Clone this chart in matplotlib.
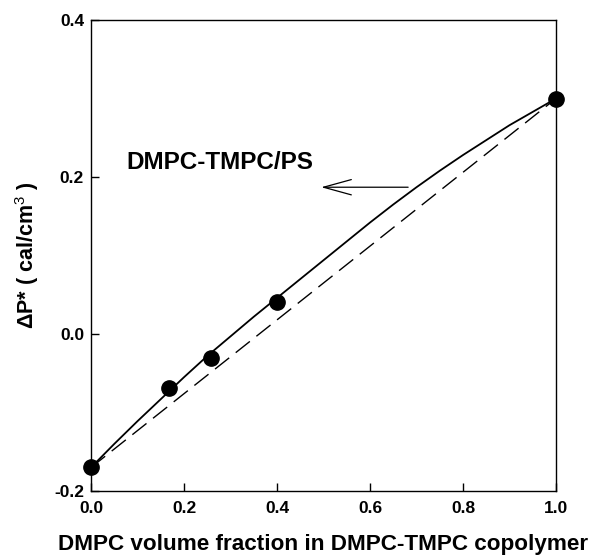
import matplotlib
matplotlib.use("Agg")
import matplotlib.pyplot as plt

plt.rcParams['font.family'] = ['Liberation Sans', 'DejaVu Sans']
plt.rcParams['mathtext.fontset'] = 'custom'
plt.rcParams['mathtext.rm'] = 'Liberation Sans'

# measured points
phi_meas = [0.0, 0.168, 0.257, 0.399, 1.0]
dp_meas = [-0.169, -0.069, -0.030, 0.041, 0.300]

# fitted curve, solid line
phi_fit = [0.0, 0.05, 0.10, 0.15, 0.20, 0.25, 0.30, 0.35, 0.40, 0.45, 0.50,
           0.55, 0.60, 0.65, 0.70, 0.75, 0.80, 0.85, 0.90, 0.95, 1.0]
dp_fit = [-0.170, -0.140, -0.111, -0.083, -0.055, -0.028, -0.003, 0.022, 0.046,
          0.070, 0.094, 0.118, 0.142, 0.165, 0.187, 0.208, 0.228, 0.247, 0.266,
          0.283, 0.300]

# linear additivity, dashed line
phi_lin = [0.0, 1.0]
dp_lin = [-0.170, 0.300]

xticks = [0.0, 0.2, 0.4, 0.6, 0.8, 1.0]
yticks = [-0.2, 0.0, 0.2, 0.4]

fig = plt.figure(figsize=(5.96, 5.59), dpi=100)
ax = fig.add_axes([0.1527, 0.1216, 0.7802, 0.8426])

ax.plot(phi_lin, dp_lin, color='black', lw=1.0, dashes=(13, 6))
ax.plot(phi_fit, dp_fit, color='black', lw=1.3)
ax.plot(phi_meas, dp_meas, 'o', color='black', ms=11, clip_on=False, zorder=5)

ax.set_xlim(0, 1.0)
ax.set_ylim(-0.2, 0.4)
ax.set_xticks(xticks)
ax.set_yticks(yticks)
ax.set_xticklabels(['%.1f' % v for v in xticks], fontweight='bold', fontsize=12.5)
ax.set_yticklabels(['%.1f' % v for v in yticks], fontweight='bold', fontsize=12.5)
ax.tick_params(direction='in', length=6, width=1, pad=7)
ax.tick_params(axis='y', pad=5)
for s in ax.spines.values():
    s.set_linewidth(1.0)

ax.set_xlabel('DMPC volume fraction in DMPC-TMPC copolymer',
              fontweight='bold', fontsize=16.2)
ax.xaxis.set_label_coords(0.5, -0.092)
ax.set_ylabel('ΔP* ( cal/cm$^3$ )', fontweight='bold', fontsize=15.5)
ax.yaxis.set_label_coords(-0.108, 0.5)

ax.text(0.077, 0.218, 'DMPC-TMPC/PS', fontweight='bold', fontsize=17.5,
        va='center', ha='left')
ax.annotate('', xy=(0.495, 0.187), xytext=(0.682, 0.187),
            arrowprops=dict(arrowstyle='->,head_length=2.0,head_width=0.55',
                            color='black', lw=0.9, shrinkA=0, shrinkB=0))

fig.savefig('out.png', dpi=100)
